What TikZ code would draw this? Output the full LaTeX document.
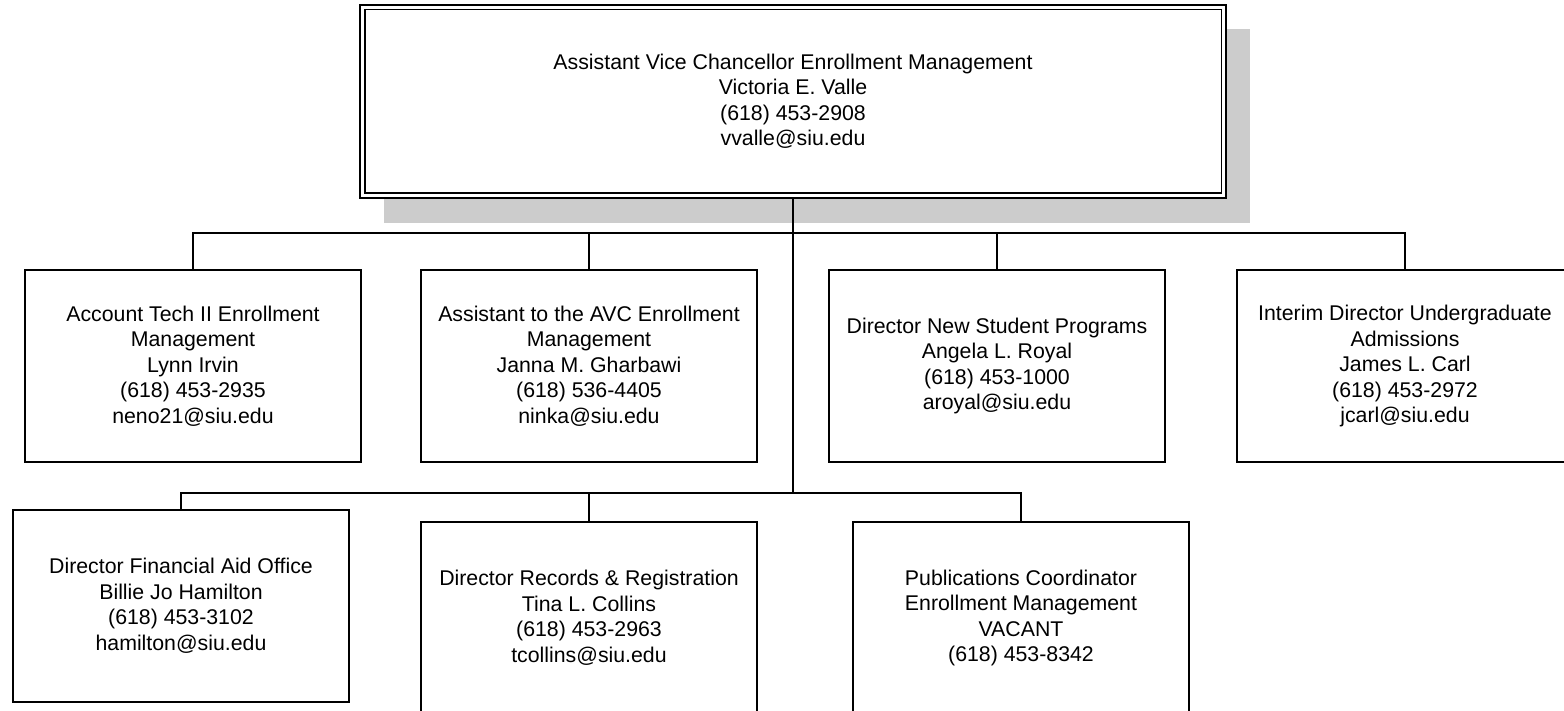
\documentclass[tikz,border=0pt]{standalone}
\usepackage{fontspec}
\setmainfont{Liberation Sans}
\begin{document}
\begin{tikzpicture}[x=1pt,y=-1pt,
  box/.style={draw=black,line width=2.2pt,fill=white,rectangle,minimum width=336pt,minimum height=192pt,inner sep=0pt,align=center,font=\fontsize{21.3pt}{25.5pt}\selectfont},
  conn/.style={draw=black,line width=2pt}]
\useasboundingbox (0,0) rectangle (1564,711);
\clip (0,0) rectangle (1564,711);
% shadow of top box
\fill[gray!40] (384,29) rectangle (1250,223);
% top box
\node[box,minimum width=866pt,minimum height=193pt,line width=2.6pt] (top) at (793,101.5) {Assistant Vice Chancellor Enrollment Management\\Victoria E. Valle\\(618) 453-2908\\vvalle@siu.edu};
\draw[line width=1.6pt] ([shift={(6,6)}]top.north west) rectangle ([shift={(-6,-6)}]top.south east);
% junctions
\coordinate (h1) at (793,233);
\coordinate (h2) at (793,493);
% row 1
\node[box] (b1) at (193,366) {Account Tech II Enrollment\\Management\\Lynn Irvin\\(618) 453-2935\\neno21@siu.edu};
\node[box] (b2) at (589,366) {Assistant to the AVC Enrollment\\Management\\Janna M. Gharbawi\\(618) 536-4405\\ninka@siu.edu};
\node[box] (b3) at (997,366) {Director New Student Programs\\Angela L. Royal\\(618) 453-1000\\aroyal@siu.edu};
\node[box] (b4) at (1405,366) {Interim Director Undergraduate\\Admissions\\James L. Carl\\(618) 453-2972\\jcarl@siu.edu};
% row 2
\node[box] (b5) at (181,606) {Director Financial Aid Office\\Billie Jo Hamilton\\(618) 453-3102\\hamilton@siu.edu};
\node[box] (b6) at (589,618) {Director Records \& Registration\\Tina L. Collins\\(618) 453-2963\\tcollins@siu.edu};
\node[box] (b7) at (1021,618) {Publications Coordinator\\Enrollment Management\\VACANT\\(618) 453-8342};
% connectors
\draw[conn] (top.south) -- (h2);
\draw[conn] (b1.north) |- (h1);
\draw[conn] (b2.north) |- (h1);
\draw[conn] (b3.north) |- (h1);
\draw[conn] (b4.north) |- (h1);
\draw[conn] (b5.north) |- (h2);
\draw[conn] (b6.north) |- (h2);
\draw[conn] (b7.north) |- (h2);
\end{tikzpicture}
\end{document}
